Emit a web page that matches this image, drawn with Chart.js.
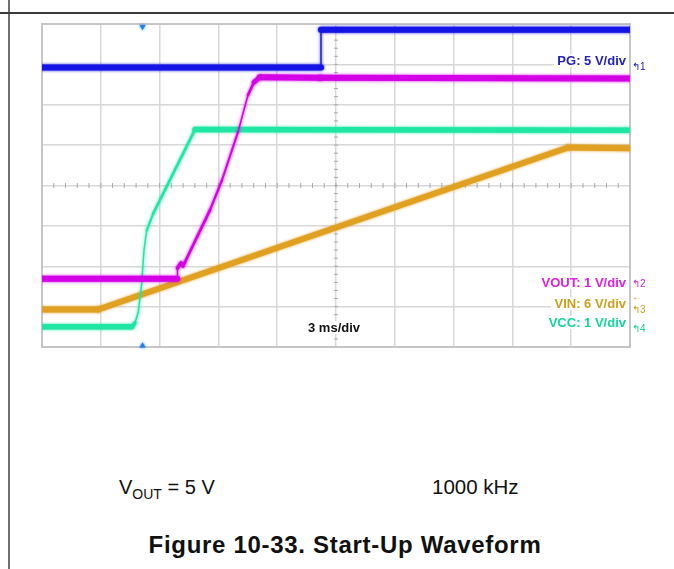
<!DOCTYPE html>
<html>
<head>
<meta charset="utf-8">
<script src="https://cdn.jsdelivr.net/npm/chart.js@4.4.1/dist/chart.umd.min.js"></script>
<style>
  body { margin: 0; background: #fff; font-family: "Liberation Sans", Arial, sans-serif; }
  #wrap { position: relative; width: 674px; height: 569px; overflow: hidden; background: #fff; }
  #scope { position: absolute; left: 0; top: 0; }
  .frameV { position: absolute; left: 8px; top: 0; width: 2px; height: 569px; background: #6e6e6e; }
  .frameH { position: absolute; left: 0; top: 12px; width: 674px; height: 1.5px; background: #3c3c3c; }
  .lbl { position: absolute; font-weight: bold; font-size: 13px; line-height: 13px; background: #fff; padding: 0 3px; white-space: nowrap; }
  .mark { position: absolute; font-size: 10px; line-height: 10px; white-space: nowrap; }
  .foot { position: absolute; font-size: 20px; line-height: 20px; color: #111; white-space: nowrap; }
  .foot sub { font-size: 14px; vertical-align: -5px; line-height: 0; }
  .title { position: absolute; left: 8px; width: 674px; text-align: center; top: 533px; font-size: 24px; line-height: 24px; font-weight: bold; letter-spacing: 0.7px; color: #111; }
</style>
</head>
<body>
<div id="wrap">
  <div class="frameV"></div>
  <div class="frameH"></div>
  <canvas id="scope" width="674" height="360"></canvas>

  <div class="lbl" style="right:45px; top:54px; color:#2222c0;">PG: 5 V/div</div>
  <div class="lbl" style="right:45px; top:276px; color:#e01ee0;">VOUT: 1 V/div</div>
  <div class="lbl" style="right:45px; top:297px; color:#c9a21c;">VIN: 6 V/div</div>
  <div class="lbl" style="right:45px; top:316px; color:#12d69a;">VCC: 1 V/div</div>
  <div class="lbl" style="left:305px; top:321px; color:#111;">3 ms/div</div>

  <div class="mark" style="left:632px; top:62px; color:#2222c0;">↰1</div>
  <div class="mark" style="left:632px; top:279px; color:#d020d0;">↰2</div>
  <div class="mark" style="left:632px; top:292px; color:#d0a020;">←</div>
  <div class="mark" style="left:632px; top:305px; color:#d0a020;">↰3</div>
  <div class="mark" style="left:632px; top:324px; color:#18d090;">↰4</div>

  <div class="foot" style="left:119px; top:477px;">V<sub>OUT</sub> = 5 V</div>
  <div class="foot" style="left:432px; top:477px; font-size:20.5px;">1000 kHz</div>
  <div class="title">Figure 10-33. Start-Up Waveform</div>
</div>

<script>
// screen is 10 x 8 divisions, values are read in divisions
const pgX = [0, 4.745, 4.745, 10];
const pgY = [6.92, 6.92, 7.86, 7.86];

const voutX = [0, 2.30, 2.304, 2.364, 2.398, 2.432, 2.857, 3.061, 3.333, 3.503, 3.605, 3.707, 4.728, 10];
const voutY = [1.69, 1.69, 1.955, 2.079, 2.005, 2.104, 3.391, 4.134, 5.322, 6.238, 6.559, 6.683, 6.671, 6.651];

const vccX = [0, 1.525, 1.582, 1.638, 1.696, 1.735, 1.781, 1.837, 1.893, 2.602, 10];
const vccY = [0.50, 0.50, 0.594, 0.874, 1.577, 2.401, 2.896, 3.10, 3.31, 5.384, 5.37];

const vinX = [0, 0.957, 8.946, 10];
const vinY = [0.93, 0.93, 4.94, 4.92];

const triggerX = 1.71;

function zip(xs, ys) {
  return xs.map(function (x, i) { return { x: x, y: ys[i] }; });
}

// scope traces look thick when flat and thin when steep
function traceWidth(t) {
  return function (c) {
    var dx = c.p1.x - c.p0.x, dy = c.p1.y - c.p0.y;
    var len = Math.hypot(dx, dy) || 1;
    return Math.max(1.4, t * Math.abs(dx) / len);
  };
}

function trace(label, xs, ys, color, t) {
  return {
    label: label,
    data: zip(xs, ys),
    borderColor: color,
    backgroundColor: color,
    borderWidth: t,
    pointRadius: 0,
    tension: 0,
    borderCapStyle: 'round',
    borderJoinStyle: 'round',
    segment: { borderWidth: traceWidth(t) }
  };
}

// frame around the screen and the centre crosshair with minor ticks
const screenPlugin = {
  id: 'screen',
  beforeDatasetsDraw: function (chart) {
    var a = chart.chartArea, ctx = chart.ctx;
    var sx = chart.scales.x, sy = chart.scales.y;
    ctx.save();
    ctx.strokeStyle = '#a9a9a9';
    ctx.lineWidth = 1;
    var cx = sx.getPixelForValue(5), cy = sy.getPixelForValue(4);
    for (var i = 1; i < 50; i++) {
      var px = sx.getPixelForValue(i / 5);
      ctx.beginPath(); ctx.moveTo(px, cy - 2.5); ctx.lineTo(px, cy + 2.5); ctx.stroke();
    }
    for (var j = 1; j < 40; j++) {
      var py = sy.getPixelForValue(j / 5);
      ctx.beginPath(); ctx.moveTo(cx - 2, py); ctx.lineTo(cx + 2, py); ctx.stroke();
    }
    ctx.strokeStyle = '#c6c6c6';
    ctx.lineWidth = 2;
    ctx.strokeRect(a.left, a.top, a.right - a.left, a.bottom - a.top);
    ctx.restore();
  },
  beforeDatasetDraw: function (chart, args) {
    var ds = chart.data.datasets[args.index];
    chart.ctx.save();
    chart.ctx.shadowColor = ds.borderColor;
    chart.ctx.shadowBlur = 3;
  },
  afterDatasetDraw: function (chart) {
    chart.ctx.restore();
  }
};

var ctx = document.getElementById('scope').getContext('2d');
var scopeChart = new Chart(ctx, {
  type: 'line',
  data: {
    datasets: [
      {
        label: 'trigger',
        data: [{ x: triggerX, y: 7.93 }, { x: triggerX, y: 0.03 }],
        showLine: false,
        pointStyle: 'triangle',
        rotation: [180, 0],
        pointRadius: 3.5,
        backgroundColor: '#1e7ff0',
        borderColor: '#1e7ff0',
        borderWidth: 0,
        clip: false
      },
      trace('PG', pgX, pgY, '#1414e6', 6),
      trace('VOUT', voutX, voutY, '#d400e6', 6),
      trace('VCC', vccX, vccY, '#1fe6a2', 5.5),
      trace('VIN', vinX, vinY, '#e0a022', 6)
    ]
  },
  options: {
    responsive: false,
    animation: false,
    devicePixelRatio: 1,
    layout: { padding: { left: 42, top: 24, right: 44, bottom: 13 } },
    plugins: { legend: { display: false }, tooltip: { enabled: false } },
    scales: {
      x: {
        type: 'linear', min: 0, max: 10,
        ticks: { display: false, stepSize: 1 },
        grid: { color: '#d8d8d8', lineWidth: 1.5, drawTicks: false },
        border: { display: false }
      },
      y: {
        type: 'linear', min: 0, max: 8,
        ticks: { display: false, stepSize: 1 },
        grid: { color: '#d8d8d8', lineWidth: 1.5, drawTicks: false },
        border: { display: false }
      }
    }
  },
  plugins: [screenPlugin]
});
</script>
</body>
</html>
